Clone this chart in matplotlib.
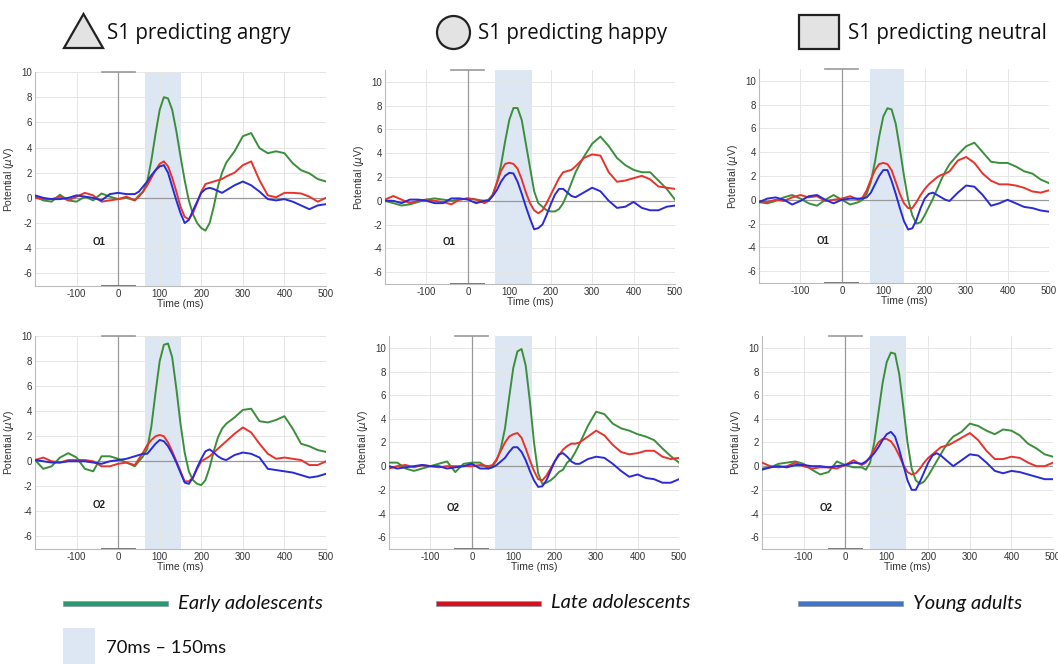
import matplotlib
matplotlib.use("Agg")
import matplotlib.pyplot as plt
from matplotlib.patches import Polygon, Circle, Rectangle

plt.rcParams["axes.unicode_minus"] = False

# time grid (ms)
t = ([-200, -180, -160, -140, -120, -100, -80, -60, -40, -20, 0, 20, 40]
     + list(range(50, 251, 10))
     + [260, 280, 300, 320, 340, 360, 380, 400, 420, 440, 460, 480, 500])

# ---- angry, O1
angry_o1_early = [0.1, -0.2, -0.3, 0.25, -0.2, -0.3, 0.1, -0.2, 0.35, 0.1, -0.1, 0.0, -0.2,
                  0.2, 0.5, 1.3, 3.0, 5.1, 7.0, 8.0, 7.9, 7.0, 5.3, 3.3, 1.4, -0.2, -1.3, -2.0, -2.4, -2.6, -2.0, -0.7, 0.9, 2.0,
                  2.8, 3.7, 4.9, 5.15, 3.95, 3.55, 3.7, 3.55, 2.75, 2.2, 1.95, 1.5, 1.3]
angry_o1_late = [0.0, -0.1, -0.1, 0.1, -0.2, 0.1, 0.4, 0.2, -0.3, -0.2, -0.1, 0.1, -0.2,
                 0.1, 0.5, 1.0, 1.6, 2.2, 2.7, 2.9, 2.5, 1.6, 0.5, -0.7, -1.5, -1.7, -1.2, -0.4, 0.5, 1.1, 1.2, 1.3, 1.4, 1.5,
                 1.7, 2.0, 2.6, 2.9, 1.4, 0.2, 0.05, 0.4, 0.4, 0.35, 0.1, -0.3, 0.0]
angry_o1_young = [0.2, 0.0, -0.1, -0.1, 0.0, 0.2, 0.1, 0.0, -0.2, 0.3, 0.4, 0.3, 0.3,
                  0.5, 0.9, 1.3, 1.8, 2.2, 2.5, 2.6, 2.0, 0.9, -0.2, -1.2, -2.0, -1.75, -1.0, -0.3, 0.4, 0.7, 0.8, 0.7, 0.55, 0.4,
                  0.6, 1.0, 1.3, 1.0, 0.5, -0.1, -0.2, -0.1, -0.3, -0.6, -0.9, -0.6, -0.5]

# ---- happy, O1
happy_o1_early = [0.0, -0.2, -0.4, -0.3, -0.1, 0.1, 0.2, 0.1, 0.0, 0.1, 0.2, 0.1, 0.0,
                  0.1, 0.5, 1.5, 3.0, 5.0, 6.8, 7.8, 7.8, 6.8, 4.8, 2.8, 0.8, -0.2, -0.5, -0.8, -0.9, -0.9, -0.7, -0.2, 0.6, 1.5,
                  2.4, 3.7, 4.8, 5.4, 4.6, 3.6, 3.0, 2.6, 2.4, 2.4, 1.7, 1.0, 0.1]
happy_o1_late = [0.1, 0.4, 0.1, -0.2, 0.0, 0.1, 0.0, -0.1, -0.3, 0.1, 0.2, 0.1, -0.2,
                 0.0, 0.5, 1.5, 2.5, 3.1, 3.2, 3.1, 2.7, 1.8, 0.7, -0.2, -0.8, -1.05, -0.8, -0.2, 0.5, 1.2, 1.9, 2.4, 2.5, 2.6,
                 2.9, 3.6, 3.9, 3.8, 2.4, 1.6, 1.7, 1.9, 2.1, 1.8, 1.2, 1.1, 1.0]
happy_o1_young = [0.0, 0.0, -0.2, 0.1, 0.1, 0.0, -0.2, -0.2, 0.2, 0.2, 0.1, -0.2, 0.0,
                  0.0, 0.4, 0.9, 1.6, 2.1, 2.35, 2.3, 1.6, 0.6, -0.5, -1.5, -2.4, -2.3, -2.0, -1.2, -0.3, 0.5, 1.0, 1.0, 0.7, 0.4,
                  0.3, 0.7, 1.1, 0.8, 0.0, -0.6, -0.5, -0.1, -0.6, -0.8, -0.8, -0.5, -0.4]

# ---- neutral, O1
neutral_o1_early = [-0.2, -0.3, -0.1, 0.2, 0.4, 0.1, -0.3, -0.5, 0.0, 0.4, 0.0, -0.4, -0.2,
                    0.0, 0.5, 1.5, 3.2, 5.3, 7.0, 7.7, 7.6, 6.4, 4.3, 2.0, 0.0, -1.3, -2.0, -1.9, -1.3, -0.6, 0.1, 0.9, 1.7, 2.4,
                    3.0, 3.8, 4.5, 4.8, 4.0, 3.2, 3.1, 3.1, 2.8, 2.4, 2.2, 1.7, 1.4]
neutral_o1_late = [-0.1, -0.2, 0.0, -0.1, 0.2, 0.4, 0.2, 0.3, -0.1, 0.0, 0.1, 0.3, 0.0,
                   0.2, 0.8, 1.7, 2.5, 3.0, 3.1, 3.0, 2.5, 1.5, 0.5, -0.3, -0.7, -0.7, -0.2, 0.4, 0.9, 1.3, 1.6, 1.9, 2.1, 2.2,
                   2.4, 3.3, 3.6, 3.1, 2.2, 1.6, 1.3, 1.3, 1.2, 1.0, 0.7, 0.6, 0.8]
neutral_o1_young = [-0.2, 0.1, 0.2, 0.0, -0.4, -0.1, 0.3, 0.4, 0.0, -0.3, 0.0, 0.1, 0.1,
                    0.1, 0.2, 0.6, 1.3, 2.0, 2.5, 2.5, 1.6, 0.5, -0.7, -1.8, -2.5, -2.4, -1.7, -0.7, 0.1, 0.5, 0.6, 0.4, 0.2, 0.0,
                    -0.1, 0.6, 1.2, 1.1, 0.4, -0.5, -0.3, 0.0, -0.3, -0.6, -0.7, -0.9, -1.0]

# ---- angry, O2
angry_o2_early = [0.1, -0.6, -0.4, 0.3, 0.65, 0.3, -0.6, -0.8, 0.4, 0.4, 0.2, -0.1, -0.4,
                  0.0, 0.4, 1.0, 2.8, 5.5, 8.0, 9.3, 9.4, 8.3, 5.8, 3.0, 0.7, -0.8, -1.5, -1.8, -1.9, -1.5, -0.5, 0.8, 1.9, 2.6,
                  3.0, 3.5, 4.1, 4.2, 3.2, 3.1, 3.3, 3.6, 2.6, 1.4, 1.2, 0.9, 0.75]
angry_o2_late = [0.1, 0.3, 0.0, -0.1, 0.1, 0.1, 0.1, 0.0, -0.4, -0.4, -0.2, -0.1, -0.3,
                 0.2, 0.7, 1.3, 1.7, 2.0, 2.1, 2.0, 1.5, 0.8, 0.0, -0.8, -1.6, -1.6, -1.3, -0.6, 0.0, 0.2, 0.4, 0.7, 1.0, 1.3,
                 1.6, 2.2, 2.7, 2.3, 1.4, 0.6, 0.2, 0.3, 0.2, 0.1, -0.3, -0.3, 0.0]
angry_o2_young = [0.1, 0.0, -0.1, -0.1, 0.0, 0.0, 0.0, -0.1, -0.2, 0.0, 0.1, 0.2, 0.4,
                  0.5, 0.6, 0.6, 1.0, 1.4, 1.7, 1.6, 1.2, 0.6, -0.1, -0.9, -1.7, -1.8, -1.3, -0.5, 0.2, 0.8, 0.95, 0.7, 0.4, 0.2,
                  0.1, 0.5, 0.7, 0.6, 0.3, -0.6, -0.7, -0.8, -0.9, -1.1, -1.3, -1.2, -1.0]

# ---- happy, O2
happy_o2_early = [0.3, 0.3, -0.2, -0.4, -0.2, 0.0, 0.2, 0.4, -0.5, 0.2, 0.3, 0.3, -0.2,
                  0.0, 0.5, 1.5, 3.2, 5.8, 8.3, 9.7, 9.9, 8.5, 5.5, 2.0, -0.6, -1.5, -1.4, -1.2, -0.9, -0.5, -0.3, 0.3, 0.6, 1.2,
                  1.9, 3.4, 4.6, 4.4, 3.6, 3.2, 3.0, 2.7, 2.5, 2.2, 1.5, 0.85, 0.3]
happy_o2_late = [-0.2, 0.0, 0.1, -0.1, 0.1, 0.0, -0.1, 0.0, 0.0, 0.0, 0.0, 0.1, 0.0,
                 0.1, 0.6, 1.3, 2.0, 2.5, 2.7, 2.8, 2.4, 1.5, 0.5, -0.4, -1.1, -1.2, -0.8, -0.2, 0.4, 0.9, 1.4, 1.7, 1.9, 1.9,
                 2.0, 2.5, 3.0, 2.6, 1.8, 1.2, 1.0, 1.1, 1.3, 1.3, 0.8, 0.6, 0.7]
happy_o2_young = [0.0, -0.2, -0.1, 0.0, 0.1, 0.0, 0.0, -0.2, -0.1, 0.0, 0.2, -0.2, -0.2,
                  -0.1, 0.1, 0.4, 0.7, 1.2, 1.6, 1.6, 1.2, 0.5, -0.4, -1.2, -1.75, -1.7, -1.2, -0.4, 0.4, 1.0, 1.1, 0.8, 0.4, 0.2,
                  0.2, 0.6, 0.8, 0.7, 0.2, -0.4, -0.9, -0.7, -1.0, -1.1, -1.4, -1.4, -1.1]

# ---- neutral, O2
neutral_o2_early = [-0.2, -0.1, 0.2, 0.3, 0.4, 0.2, -0.3, -0.7, -0.5, 0.4, 0.1, -0.1, -0.1,
                    -0.3, 0.3, 2.0, 4.5, 7.0, 8.8, 9.6, 9.5, 7.8, 5.0, 2.0, -0.2, -1.2, -1.5, -1.3, -0.8, -0.2, 0.4, 1.0, 1.6, 2.1,
                    2.5, 2.9, 3.6, 3.4, 3.0, 2.7, 3.1, 3.0, 2.6, 1.9, 1.5, 1.0, 0.8]
neutral_o2_late = [0.3, 0.0, -0.1, 0.0, 0.3, 0.0, -0.2, -0.1, -0.1, -0.2, 0.1, 0.5, 0.1,
                   0.3, 0.8, 1.4, 2.0, 2.3, 2.3, 2.1, 1.6, 0.9, 0.1, -0.5, -0.7, -0.6, -0.2, 0.3, 0.7, 1.0, 1.3, 1.6, 1.7, 1.8,
                   2.0, 2.4, 2.8, 2.2, 1.3, 0.6, 0.6, 0.8, 0.7, 0.3, 0.0, 0.0, 0.3]
neutral_o2_young = [-0.3, -0.1, 0.0, -0.1, 0.1, 0.1, 0.0, 0.0, -0.1, 0.0, 0.1, 0.3, 0.2,
                    0.4, 0.7, 1.1, 1.6, 2.2, 2.7, 2.9, 2.5, 1.4, 0.1, -1.2, -2.0, -2.0, -1.3, -0.5, 0.3, 0.9, 1.1, 0.9, 0.6, 0.3,
                    0.0, 0.5, 1.0, 0.9, 0.3, -0.4, -0.6, -0.4, -0.5, -0.7, -0.9, -1.1, -1.1]

titles = ["S1 predicting angry", "S1 predicting happy", "S1 predicting neutral"]
group_names = ["Early adolescents", "Late adolescents", "Young adults"]
channels = ["O1", "O2"]
window_label = "70ms \u2013 150ms"

line_colors = ["#3b8f3b", "#e8332c", "#2a2ad6"]
legend_colors = ["#2a9a6e", "#d4121f", "#4472c4"]
shade_col = "#dce7f3"

panels = [
    # (data, channel, pixel box x0, y0, x1, y1, ytop, shade window)
    ((angry_o1_early, angry_o1_late, angry_o1_young), 0, (35, 72, 326, 286), 10, (65, 150)),
    ((happy_o1_early, happy_o1_late, happy_o1_young), 0, (385, 70, 675, 284), 11, (65, 154)),
    ((neutral_o1_early, neutral_o1_late, neutral_o1_young), 0, (759, 69, 1049, 283), 11, (68, 149)),
    ((angry_o2_early, angry_o2_late, angry_o2_young), 1, (35, 336, 326, 549), 10, (65, 150)),
    ((happy_o2_early, happy_o2_late, happy_o2_young), 1, (389, 336, 679, 549), 11, (57, 145)),
    ((neutral_o2_early, neutral_o2_late, neutral_o2_young), 1, (762, 336, 1053, 549), 11, (59, 146)),
]

W, H = 1058, 664
fig = plt.figure(figsize=(W / 100, H / 100), dpi=100)
fig.patch.set_facecolor("white")

for series, ch, (x0, y0, x1, y1), ytop, (s0, s1) in panels:
    ax = fig.add_axes([x0 / W, 1 - y1 / H, (x1 - x0) / W, (y1 - y0) / H])
    ax.set_xlim(-200, 500)
    ax.set_ylim(-7, ytop)
    ax.axvspan(s0, s1, color=shade_col, lw=0, zorder=0)
    ax.grid(True, color="#e6e6e6", lw=0.7, zorder=0)
    ax.set_axisbelow(True)
    ax.axhline(0, color="#999999", lw=0.9, zorder=1)
    ax.axvline(0, color="#999999", lw=0.9, zorder=1)
    ax.plot([-40, 40], [ytop, ytop], color="#999999", lw=1.2, zorder=1, clip_on=False)
    ax.plot([-40, 40], [-7, -7], color="#777777", lw=1.4, zorder=1, clip_on=False)
    for y, c in zip(series, line_colors):
        ax.plot(t, y, color=c, lw=1.4, zorder=3, solid_joinstyle="round")
    ax.text(-45, -3.5, channels[ch], fontsize=7, fontweight="bold",
            family="Liberation Sans", ha="center", va="center", color="#222222")
    ax.set_xticks([-100, 0, 100, 200, 300, 400, 500])
    ax.set_yticks(range(-6, 11, 2))
    ax.tick_params(labelsize=7, colors="#333333", length=0, pad=2)
    for lab in ax.get_xticklabels() + ax.get_yticklabels():
        lab.set_family("Liberation Sans")
    ax.set_xlabel("Time (ms)", fontsize=7.5, family="Liberation Sans", color="#333333", labelpad=0)
    ax.set_ylabel("Potential ($\\mu$V)", fontsize=7.5, family="Liberation Sans", color="#333333", labelpad=4)
    for side in ["top", "right"]:
        ax.spines[side].set_visible(False)
    for side in ["left", "bottom"]:
        ax.spines[side].set_color("#bbbbbb")
        ax.spines[side].set_linewidth(0.8)

# overlay for titles and legend
ov = fig.add_axes([0, 0, 1, 1])
ov.set_xlim(0, W)
ov.set_ylim(H, 0)
ov.axis("off")

ov.add_patch(Polygon([[64, 48], [103, 48], [83.5, 14]], closed=True, fc="#e3e3e3", ec="#222222", lw=1.6))
ov.add_patch(Circle((453.5, 32.5), 16.5, fc="#e3e3e3", ec="#222222", lw=1.6))
ov.add_patch(Rectangle((799, 15), 40, 34, fc="#e3e3e3", ec="#222222", lw=1.6))
title_x = [107, 478, 848]
for x, s in zip(title_x, titles):
    ov.text(x, 33, s, fontsize=14.8, family="Open Sans", ha="left", va="center", color="#111111")

leg_x = [63, 436, 798]
for x, c, s in zip(leg_x, legend_colors, group_names):
    ov.add_patch(Rectangle((x, 600.5), 105, 5, fc=c, ec="#8a94a8", lw=0.5))
    ov.text(x + 115, 603, s, fontsize=14.5, family="Lato", style="italic",
            ha="left", va="center", color="#111111")

ov.add_patch(Rectangle((63, 628), 32, 36, fc=shade_col, ec="none"))
ov.text(106, 648, window_label, fontsize=13.3, family="Lato", ha="left", va="center", color="#111111")

fig.savefig("out.png", dpi=100)
